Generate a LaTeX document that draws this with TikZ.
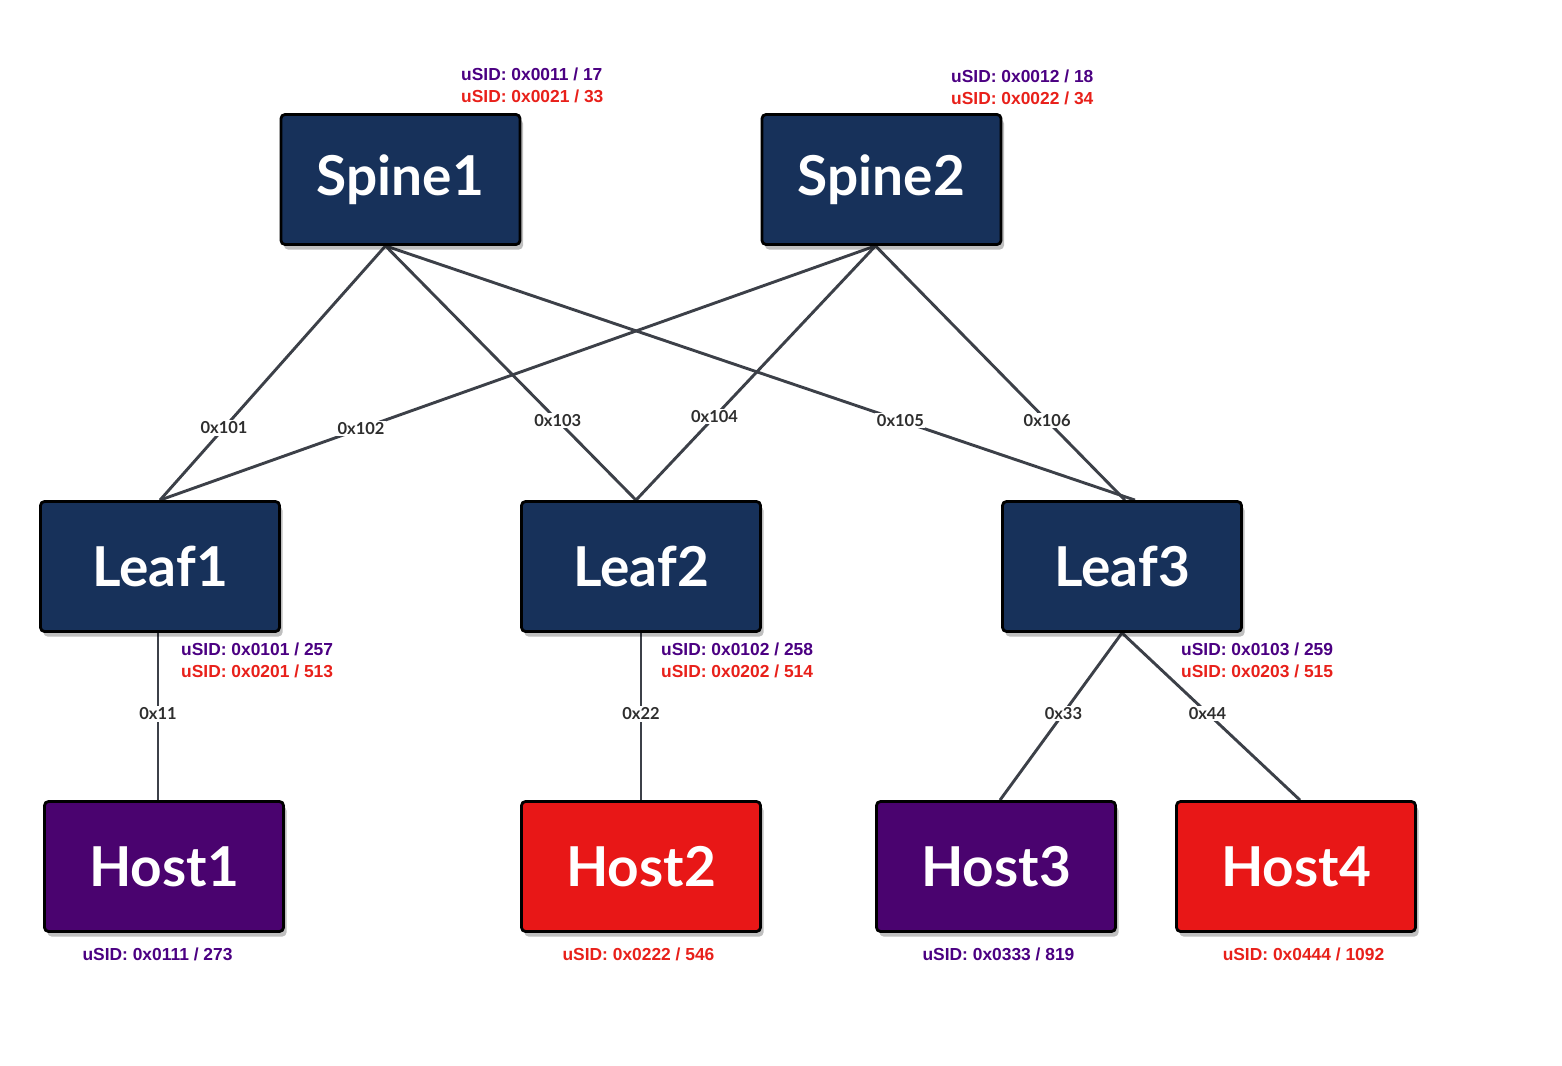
\documentclass[tikz,border=0pt]{standalone}
\usepackage{fontspec}
\newfontfamily\lato{Lato}
\newfontfamily\arialf{Liberation Sans}
\usetikzlibrary{shadows,calc,backgrounds}
\definecolor{navy}{HTML}{17315A}
\definecolor{hpurple}{HTML}{4A036F}
\definecolor{hred}{HTML}{E81717}
\definecolor{tpurple}{HTML}{4B0082}
\definecolor{tred}{HTML}{E8201A}
\definecolor{edgec}{HTML}{3C4048}
\definecolor{labc}{HTML}{2E2E2E}
\tikzset{
  box/.style={draw=black, line width=2.8pt, rounded corners=4pt, minimum width=239pt, minimum height=130pt,
    inner sep=0pt, text=white, font=\lato\bfseries\fontsize{55}{60}\selectfont,
    drop shadow={shadow xshift=3pt, shadow yshift=-5pt, opacity=0.25, fill=black}},
  sw/.style={box, fill=navy},
  hp/.style={box, fill=hpurple},
  hr/.style={box, fill=hred},
  link/.style={draw=edgec, line width=2.9pt},
  lab/.style={fill=white, inner sep=1.5pt, text=labc, font=\lato\bfseries\fontsize{16.5}{18}\selectfont},
  sidp/.style={text=tpurple, inner sep=0pt, font=\arialf\bfseries\fontsize{17.4}{20}\selectfont},
  sidr/.style={text=tred, inner sep=0pt, font=\arialf\bfseries\fontsize{17.4}{20}\selectfont},
}
\begin{document}
\begin{tikzpicture}[x=1pt,y=-1pt]
\useasboundingbox (0,0) rectangle (1562,1065);
% nodes
\node[sw] (S1) at (400.5,179.5) {Spine1};
\node[sw] (S2) at (881.5,179.5) {Spine2};
\node[sw] (L1) at (160,566.5) {Leaf1};
\node[sw] (L2) at (641,566.5) {Leaf2};
\node[sw] (L3) at (1122,566.5) {Leaf3};
\node[hp] (H1) at (164,866.5) {Host1};
\node[hr] (H2) at (641,866.5) {Host2};
\node[hp] (H3) at (996,866.5) {Host3};
\node[hr] (H4) at (1296,866.5) {Host4};
% links
\begin{scope}[on background layer]
\draw[link] ([xshift=-15pt]S1.south) -- node[lab,pos=0.716]{0x101} (L1.north);
\draw[link] ([xshift=-15pt]S1.south) -- node[lab,pos=0.688]{0x103} ([xshift=-5pt]L2.north);
\draw[link] ([xshift=-15pt]S1.south) -- node[lab,pos=0.687]{0x105} ([xshift=13pt]L3.north);
\draw[link] ([xshift=-6pt]S2.south) -- node[lab,pos=0.719]{0x102} (L1.north);
\draw[link] ([xshift=-6pt]S2.south) -- node[lab,pos=0.672]{0x104} ([xshift=-5pt]L2.north);
\draw[link] ([xshift=-6pt]S2.south) -- node[lab,pos=0.688]{0x106} ([xshift=3pt]L3.north);
\draw[link] ([xshift=-2pt]L1.south) -- node[lab,pos=0.485]{0x11} ([xshift=-6pt]H1.north);
\draw[link] (L2.south) -- node[lab,pos=0.485]{0x22} (H2.north);
\draw[link] (L3.south) -- node[lab,pos=0.48]{0x33} ([xshift=4pt]H3.north);
\draw[link] (L3.south) -- node[lab,pos=0.48]{0x44} ([xshift=4pt]H4.north);
\end{scope}
% uSID labels
\node[sidp, anchor=west] (s1a) at (461,74.5) {uSID: 0x0011 / 17};
\node[sidr, anchor=west] (s1b) at (461,96.5) {uSID: 0x0021 / 33};
\node[sidp, anchor=west] (s2a) at (951,76.5) {uSID: 0x0012 / 18};
\node[sidr, anchor=west] (s2b) at (951,98.5) {uSID: 0x0022 / 34};
\node[sidp, anchor=west] (l1a) at (181,649.5) {uSID: 0x0101 / 257};
\node[sidr, anchor=west] (l1b) at (181,671.5) {uSID: 0x0201 / 513};
\node[sidp, anchor=west] (l2a) at (661,649.5) {uSID: 0x0102 / 258};
\node[sidr, anchor=west] (l2b) at (661,671.5) {uSID: 0x0202 / 514};
\node[sidp, anchor=west] (l3a) at (1181,649.5) {uSID: 0x0103 / 259};
\node[sidr, anchor=west] (l3b) at (1181,671.5) {uSID: 0x0203 / 515};
\node[sidp] (h1s) at (157.5,954.5) {uSID: 0x0111 / 273};
\node[sidr] (h2s) at (638.5,954.5) {uSID: 0x0222 / 546};
\node[sidp] (h3s) at (998.5,954.5) {uSID: 0x0333 / 819};
\node[sidr] (h4s) at (1303.5,954.5) {uSID: 0x0444 / 1092};
\end{tikzpicture}
\end{document}
